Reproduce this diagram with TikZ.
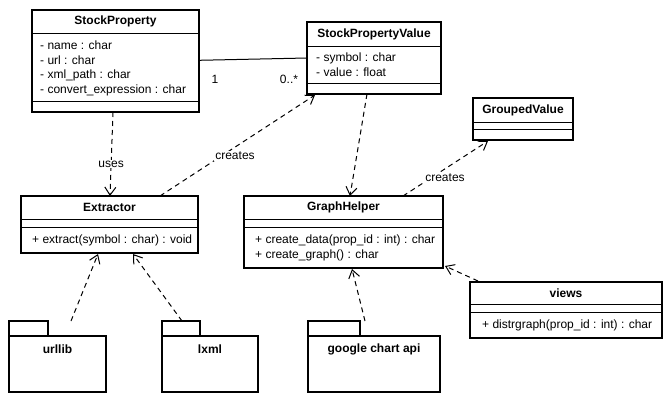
\documentclass[tikz,border=0pt]{standalone}
\usepackage{fontspec}
\setmainfont{Liberation Sans}
\usetikzlibrary{arrows.meta,calc}
\begin{document}
\begin{tikzpicture}[x=1pt,y=-1pt,
  box/.style={draw,line width=2pt,anchor=north west,inner sep=0pt,outer sep=0pt},
  sep/.style={line width=1pt},
  ttl/.style={font=\fontsize{12}{14}\selectfont\bfseries,inner sep=0pt},
  mem/.style={font=\fontsize{12}{14}\selectfont,anchor=west,inner sep=0pt},
  lbl/.style={font=\fontsize{12}{14}\selectfont,fill=white,inner sep=1pt},
  plain/.style={font=\fontsize{12}{14}\selectfont,inner sep=0pt},
  dep/.style={line width=1pt,dash pattern=on 5pt off 4pt,-{Straight Barb[length=8pt,width=11pt,line width=1pt]}},
  pkg/.style={anchor=north west,inner sep=0pt,outer sep=0pt},
  pkgline/.style={line width=2pt}]
\useasboundingbox[fill=white] (0,0) rectangle (672,402);

% StockProperty
\node[box,minimum width=167pt,minimum height=102.5pt] (sp) at (32,9.5) {};
\draw[sep] (sp.west|-0,33) -- (sp.east|-0,33);
\draw[sep] (sp.west|-0,101) -- (sp.east|-0,101);
\node[ttl] (spt) at (sp.north|-0,21) {StockProperty};
\node[mem] (spa1) at (40,45) {- name : char};
\node[mem] (spa2) at (40,60.5) {- url : char};
\node[mem] (spa3) at (40,75.5) {- xml\_path : char};
\node[mem] (spa4) at (40,90.5) {- convert\_expression : char};

% StockPropertyValue
\node[box,minimum width=134pt,minimum height=72pt] (spv) at (307,22) {};
\draw[sep] (spv.west|-0,46) -- (spv.east|-0,46);
\draw[sep] (spv.west|-0,83) -- (spv.east|-0,83);
\node[ttl] (spvt) at (spv.north|-0,34) {StockPropertyValue};
\node[mem] (spva1) at (316,58) {- symbol : char};
\node[mem] (spva2) at (316,72) {- value : float};

% GroupedValue
\node[box,minimum width=100pt,minimum height=42pt] (gv) at (473,98) {};
\draw[sep] (gv.west|-0,122) -- (gv.east|-0,122);
\draw[sep] (gv.west|-0,129) -- (gv.east|-0,129);
\node[ttl] (gvt) at (gv.north|-0,110) {GroupedValue};

% Extractor
\node[box,minimum width=177pt,minimum height=57pt] (ex) at (21,196) {};
\draw[sep] (ex.west|-0,219) -- (ex.east|-0,219);
\draw[sep] (ex.west|-0,227) -- (ex.east|-0,227);
\node[ttl] (ext) at (ex.north|-0,207.5) {Extractor};
\node[mem] (exm1) at (32,240) {+ extract(symbol : char) : void};

% GraphHelper
\node[box,minimum width=199pt,minimum height=72pt] (gh) at (244,196) {};
\draw[sep] (gh.west|-0,219) -- (gh.east|-0,219);
\draw[sep] (gh.west|-0,227) -- (gh.east|-0,227);
\node[ttl] (ght) at (gh.north|-0,207.5) {GraphHelper};
\node[mem] (ghm1) at (255,240) {+ create\_data(prop\_id : int) : char};
\node[mem] (ghm2) at (255,255) {+ create\_graph() : char};

% views
\node[box,minimum width=192pt,minimum height=56pt] (vw) at (470,282) {};
\draw[sep] (vw.west|-0,304) -- (vw.east|-0,304);
\draw[sep] (vw.west|-0,312) -- (vw.east|-0,312);
\node[ttl] (vwt) at (vw.north|-0,293) {views};
\node[mem] (vwm1) at (482,325) {+ distrgraph(prop\_id : int) : char};

% packages
\node[pkg,minimum width=97pt,minimum height=71pt] (ul) at (9,321) {};
\draw[pkgline] (9,321) rectangle (48,336);
\draw[pkgline] (9,336) rectangle (106,392);
\node[ttl] (ult) at (57.5,349) {urllib};

\node[pkg,minimum width=96pt,minimum height=71pt] (lx) at (162,321) {};
\draw[pkgline] (162,321) rectangle (200,336);
\draw[pkgline] (162,336) rectangle (258,392);
\node[ttl] (lxt) at (210,349) {lxml};

\node[pkg,minimum width=132pt,minimum height=71pt] (gc) at (308,321) {};
\draw[pkgline] (308,321) rectangle (360,336);
\draw[pkgline] (308,336) rectangle (440,392);
\node[ttl] (gct) at (374,349) {google chart api};

% association
\draw[line width=1pt] (sp.east|-0,60.3) -- (spv.west|-0,58);
\node[plain] (m1) at (215,79) {1};
\node[plain] (m2) at (289,79) {0..*};

% dependencies
\draw[dep] ($(sp.south)+(-2.5,0)$) -- node[lbl,pos=0.62] (luses) {uses} ($(ex.north)+(0.5,0)$);
\draw[dep] ($(ex.north)+(50.5,0)$) -- ($(spv.south west)+(8,1)$);
\node[lbl] (lcr1) at (235,156) {creates};
\draw[dep] ($(spv.south)+(-7,0)$) -- ($(gh.north)+(6.5,0)$);
\draw[dep] ($(gh.north)+(59.5,0)$) -- ($(gv.south)+(-35,1)$);
\node[lbl] (lcr2) at (445,178) {creates};
\draw[dep] ($(ul.north west)+(62,0)$) -- ($(ex.south west)+(77,1)$);
\draw[dep] ($(lx.north west)+(20,0)$) -- ($(ex.south west)+(112,1)$);
\draw[dep] ($(gc.north west)+(57,0)$) -- ($(gh.south)+(8.5,1)$);
\draw[dep] ($(vw.north west)+(8,-1)$) -- ($(gh.south east)+(2,-2)$);
\end{tikzpicture}
\end{document}
